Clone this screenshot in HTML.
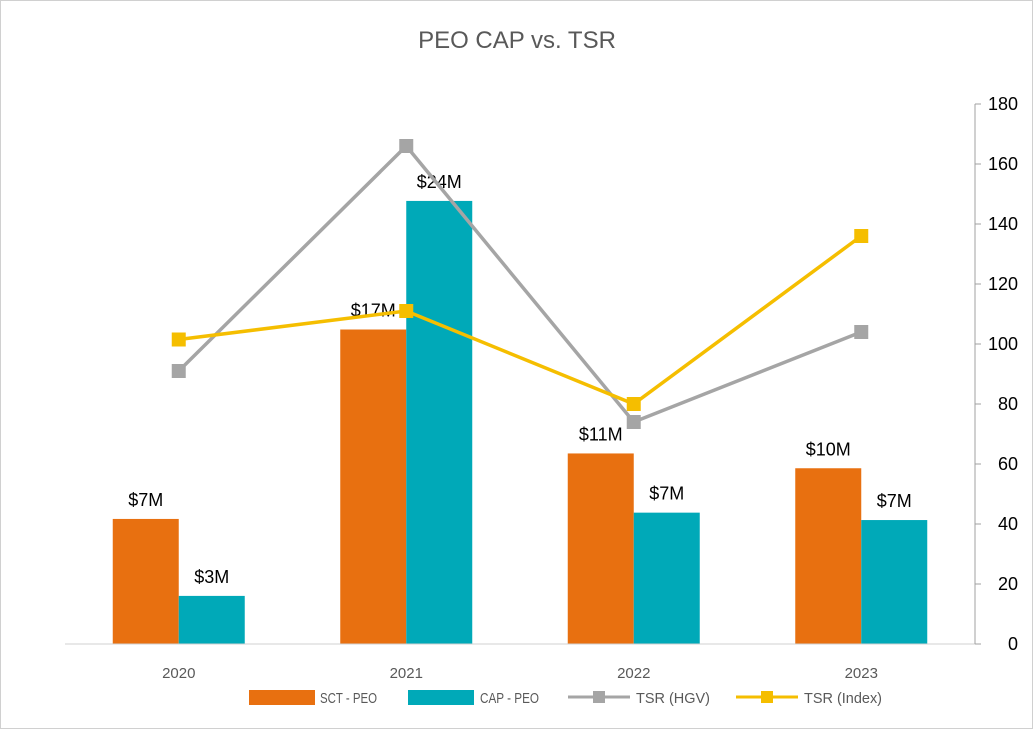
<!DOCTYPE html>
<html><head><meta charset="utf-8"><style>
body{margin:0;background:#fff;}
svg{display:block;font-family:"Liberation Sans",sans-serif;}
</style></head><body>
<svg id="chart" width="1034" height="730">
<rect x="0.5" y="0.5" width="1032" height="728" fill="#fff" stroke="#d0d0d0"/>
<text x="517" y="48" font-size="24" fill="#595959" text-anchor="middle">PEO CAP vs. TSR</text>
<g id="bars"></g><g id="lines"></g><g id="axes"></g>
<g font-size="15" fill="#595959">
<rect x="249" y="690" width="66" height="15" fill="#E87010"/>
<text x="320" y="703" textLength="57" lengthAdjust="spacingAndGlyphs">SCT - PEO</text>
<rect x="408" y="690" width="66" height="15" fill="#00A9B8"/>
<text x="480" y="703" textLength="59" lengthAdjust="spacingAndGlyphs">CAP - PEO</text>
<line x1="568" y1="697" x2="630" y2="697" stroke="#A5A5A5" stroke-width="3"/>
<rect x="593" y="691" width="12" height="12" fill="#A5A5A5"/>
<text x="636" y="703" textLength="74" lengthAdjust="spacingAndGlyphs">TSR (HGV)</text>
<line x1="736" y1="697" x2="798" y2="697" stroke="#F5BE00" stroke-width="3"/>
<rect x="761" y="691" width="12" height="12" fill="#F5BE00"/>
<text x="804" y="703" textLength="78" lengthAdjust="spacingAndGlyphs">TSR (Index)</text>
</g>
</svg>
<script>
const categories=["2020","2021","2022","2023"];
const sct=[6.76,17.0,10.3,9.5];
const cap=[2.6,23.95,7.1,6.7];
const sctLabels=["$7M","$17M","$11M","$10M"];
const capLabels=["$3M","$24M","$7M","$7M"];
const tsrHgv=[91,166,74,104];
const tsrIndex=[101.5,111,80,136];
const rightTicks=[0,20,40,60,80,100,120,140,160,180];
const NS="http://www.w3.org/2000/svg";
const x0=65,x1=975,base=644;
const band=(x1-x0)/categories.length;
const xc=i=>x0+band*(i+0.5);
const yBar=v=>base-v*18.5;
const yR=v=>base-v*3;
function mk(tag,attrs,parent,txt){const e=document.createElementNS(NS,tag);for(const k in attrs)e.setAttribute(k,attrs[k]);if(txt!=null)e.textContent=txt;parent.appendChild(e);return e;}
const gB=document.getElementById('bars'),gL=document.getElementById('lines'),gA=document.getElementById('axes');
const bw=66;
categories.forEach((c,i)=>{
 const cx=xc(i);
 let r=mk('rect',{x:cx-bw,y:yBar(sct[i]),width:bw,height:base-yBar(sct[i]),fill:'#E87010'},gB);
 
 
 r=mk('rect',{x:cx,y:yBar(cap[i]),width:bw,height:base-yBar(cap[i]),fill:'#00A9B8'},gB);
 
 
 let t=mk('text',{x:cx-bw/2,y:yBar(sct[i])-13,'font-size':18,fill:'#000','text-anchor':'middle'},gB,sctLabels[i]);
 
 
 t=mk('text',{x:cx+bw/2,y:yBar(cap[i])-13,'font-size':18,fill:'#000','text-anchor':'middle'},gB,capLabels[i]);
 
 
 t=mk('text',{x:cx,y:678,'font-size':15,fill:'#595959','text-anchor':'middle'},gA,c);
 
 
});
function series(vals,color,name){
 const p=mk('polyline',{points:vals.map((v,i)=>xc(i)+','+yR(v)).join(' '),fill:'none',stroke:color,'stroke-width':3.5},gL);
 
 
 vals.forEach((v,i)=>{const m=mk('rect',{x:xc(i)-7,y:yR(v)-7,width:14,height:14,fill:color},gL);
 
 });
}
series(tsrHgv,'#A5A5A5','tsr-hgv');
series(tsrIndex,'#F5BE00','tsr-index');
let l=mk('line',{x1:x0,y1:base,x2:x1,y2:base,stroke:'#d0d0d0','stroke-width':1},gA);


l=mk('line',{x1:x1,y1:yR(180),x2:x1,y2:base,stroke:'#a0a0a0','stroke-width':1},gA);


rightTicks.forEach(v=>{
 const tk=mk('line',{x1:x1,y1:yR(v),x2:x1+6,y2:yR(v),stroke:'#a0a0a0'},gA);
 
 
 const t=mk('text',{x:1018,y:yR(v)+6,'font-size':18,fill:'#000','text-anchor':'end'},gA,v);
 
 
});
</script>
</body></html>
